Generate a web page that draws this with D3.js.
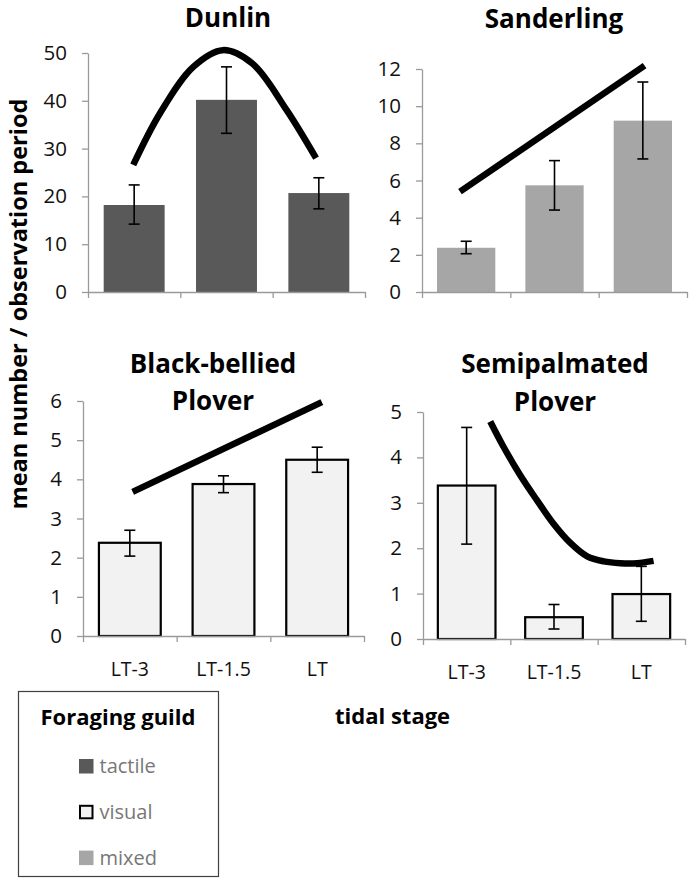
<!DOCTYPE html>
<html><head><meta charset="utf-8">
<script src="https://cdn.jsdelivr.net/npm/d3@7"></script>
<style>
html,body{margin:0;padding:0;background:#fff;}
svg{display:block;font-family:"Open Sans",sans-serif;}
</style></head><body>
<svg id="chart" width="692" height="881"></svg>
<script>
// ---------- data ----------
const categories = ["LT-3", "LT-1.5", "LT"];
const speciesNames = ["Dunlin", "Sanderling", "Black-bellied Plover", "Semipalmated Plover"];
const speciesGuild = ["tactile", "mixed", "visual", "visual"];
const guildNames = ["tactile", "visual", "mixed"];

const dunlinMean = [18.2, 40.2, 20.7];
const dunlinLow  = [14.2, 33.2, 17.4];
const dunlinHigh = [22.4, 47.1, 23.9];

const sanderlingMean = [2.38, 5.74, 9.22];
const sanderlingLow  = [2.06, 4.41, 7.16];
const sanderlingHigh = [2.73, 7.07, 11.3];

const bbploverMean = [2.38, 3.88, 4.50];
const bbploverLow  = [2.04, 3.66, 4.18];
const bbploverHigh = [2.70, 4.09, 4.82];

const spploverMean = [3.38, 0.48, 0.99];
const spploverLow  = [2.09, 0.22, 0.39];
const spploverHigh = [4.66, 0.76, 1.60];

const yMaxValues = [50, 12, 6, 5];
const yTickSteps = [10, 2, 1, 1];

// trend curves (x in category-index units, 0 = LT-3 centre)
const dunlinTrendX = [-0.01, 0.28, 0.64, 0.96, 1.28, 1.65, 1.97];
const dunlinTrendY = [26.6, 37.4, 47.1, 50.6, 47.8, 38.1, 28.0];
const sanderlingTrendX = [-0.07, 2.02];
const sanderlingTrendY = [5.40, 12.18];
const bbploverTrendX = [0.03, 2.05];
const bbploverTrendY = [3.68, 5.97];
const spploverTrendX = [0.27, 0.42, 0.61, 0.80, 0.99, 1.19, 1.38, 1.57, 1.76, 1.95, 2.14];
const spploverTrendY = [4.79, 4.24, 3.62, 3.07, 2.55, 2.11, 1.82, 1.71, 1.67, 1.67, 1.72];

const axisTitleY = "mean number / observation period";
const axisTitleX = "tidal stage";
const legendTitle = "Foraging guild";

// ---------- styles / layout ----------
const guildFill = {tactile: "#595959", mixed: "#a6a6a6", visual: "#f2f2f2"};
const guildStroke = {tactile: "none", mixed: "none", visual: "#000"};
const axisColor = "#9a9a9a";

const panels = [
  {mean: dunlinMean, low: dunlinLow, high: dunlinHigh, tx: dunlinTrendX, ty: dunlinTrendY,
   x0: 88, x1: 365, yTop: 53, yBot: 292, titleLines: ["Dunlin"], titleX: 228, titleY: [27], labels: false, curve: d3.curveCatmullRom},
  {mean: sanderlingMean, low: sanderlingLow, high: sanderlingHigh, tx: sanderlingTrendX, ty: sanderlingTrendY,
   x0: 422, x1: 687, yTop: 69, yBot: 292, titleLines: ["Sanderling"], titleX: 554, titleY: [28], labels: false, curve: d3.curveLinear},
  {mean: bbploverMean, low: bbploverLow, high: bbploverHigh, tx: bbploverTrendX, ty: bbploverTrendY,
   x0: 83, x1: 364, yTop: 401, yBot: 636, titleLines: ["Black-bellied", "Plover"], titleX: 213, titleY: [373, 410], labels: true, curve: d3.curveLinear},
  {mean: spploverMean, low: spploverLow, high: spploverHigh, tx: spploverTrendX, ty: spploverTrendY,
   x0: 423, x1: 685, yTop: 412, yBot: 639, titleLines: ["Semipalmated", "Plover"], titleX: 555, titleY: [373, 411], labels: true, curve: d3.curveCatmullRom}
];

const svg = d3.select("#chart");

panels.forEach((p, i) => {
  const g = svg.append("g");
  const guild = speciesGuild[i];
  const x = d3.scaleBand().domain(categories).range([p.x0, p.x1]).paddingInner(0.34).paddingOuter(0.17);
  const y = d3.scaleLinear().domain([0, yMaxValues[i]]).range([p.yBot, p.yTop]);
  const xc = d3.scaleLinear().domain([0, categories.length - 1])
    .range([x(categories[0]) + x.bandwidth() / 2, x(categories[categories.length - 1]) + x.bandwidth() / 2]);
  const xb = d3.scaleLinear().domain([0, categories.length]).range([p.x0, p.x1]);

  // bars
  const rows = categories.map((c, k) => ({c, m: p.mean[k], lo: p.low[k], hi: p.high[k]}));
  g.selectAll("rect.bar").data(rows).join("rect").attr("class", "bar")
    .attr("x", d => x(d.c)).attr("width", x.bandwidth())
    .attr("y", d => y(d.m)).attr("height", d => y(0) - y(d.m))
    .attr("fill", guildFill[guild])
    .attr("stroke", guildStroke[guild]).attr("stroke-width", 2.2);

  // y axis
  const ya = d3.axisLeft(y).tickValues(d3.range(0, yMaxValues[i] + 1e-9, yTickSteps[i]))
    .tickFormat(d3.format("d"))
    .tickSizeInner(6).tickSizeOuter(0).tickPadding(15);
  const yg = g.append("g").attr("transform", `translate(${p.x0},0)`).call(ya);
  yg.select(".domain").attr("stroke", axisColor).attr("stroke-width", 1.3);
  yg.selectAll(".tick line").attr("stroke", axisColor).attr("stroke-width", 1.3);
  yg.selectAll(".tick text").attr("font-size", 20.5).attr("fill", "#111").attr("font-family", "Open Sans");

  // x axis
  const xa = d3.axisBottom(xb).tickValues(d3.range(0, categories.length + 1)).tickFormat("")
    .tickSizeInner(6).tickSizeOuter(0);
  const xg = g.append("g").attr("transform", `translate(0,${p.yBot})`).call(xa);
  xg.select(".domain").attr("stroke", axisColor).attr("stroke-width", 1.3);
  xg.selectAll(".tick line").attr("stroke", axisColor).attr("stroke-width", 1.3);

  if (p.labels) {
    g.selectAll("text.xl").data(categories).join("text").attr("class", "xl")
      .attr("x", d => x(d) + x.bandwidth() / 2).attr("y", p.yBot + 40)
      .attr("text-anchor", "middle").attr("font-size", 19.5).attr("fill", "#111").text(d => d);
  }

  // error bars
  const eb = g.selectAll("g.err").data(rows).join("g").attr("class", "err");
  const cx = d => x(d.c) + x.bandwidth() / 2;
  eb.append("line").attr("x1", cx).attr("x2", cx).attr("y1", d => y(d.lo)).attr("y2", d => y(d.hi))
    .attr("stroke", "#000").attr("stroke-width", 1.6);
  eb.append("line").attr("x1", d => cx(d) - 5.5).attr("x2", d => cx(d) + 5.5).attr("y1", d => y(d.hi)).attr("y2", d => y(d.hi))
    .attr("stroke", "#000").attr("stroke-width", 1.6);
  eb.append("line").attr("x1", d => cx(d) - 5.5).attr("x2", d => cx(d) + 5.5).attr("y1", d => y(d.lo)).attr("y2", d => y(d.lo))
    .attr("stroke", "#000").attr("stroke-width", 1.6);

  // trend line
  const pts = p.tx.map((v, k) => [v, p.ty[k]]);
  g.append("path").datum(pts)
    .attr("d", d3.line().x(d => xc(d[0])).y(d => y(d[1])).curve(p.curve))
    .attr("fill", "none").attr("stroke", "#000").attr("stroke-width", 6.5);

  // title
  p.titleLines.forEach((ln, k) => {
    g.append("text").attr("x", p.titleX).attr("y", p.titleY[k]).attr("text-anchor", "middle")
      .attr("font-size", 26).attr("font-weight", "bold").attr("fill", "#000").text(ln);
  });
});

// y axis title
svg.append("text").attr("transform", "translate(27,304) rotate(-90)")
  .attr("text-anchor", "middle").attr("font-size", 23.5).attr("font-weight", "bold").attr("fill", "#000")
  .text(axisTitleY);

// x axis title
svg.append("text").attr("x", 335).attr("y", 724).attr("font-size", 22).attr("font-weight", "bold").attr("fill", "#000")
  .text(axisTitleX);

// legend
const lg = svg.append("g");
lg.append("rect").attr("x", 18.5).attr("y", 691.5).attr("width", 200).attr("height", 185)
  .attr("fill", "#fff").attr("stroke", "#404040").attr("stroke-width", 1.2);
lg.append("text").attr("x", 118).attr("y", 725).attr("text-anchor", "middle")
  .attr("font-size", 22).attr("font-weight", "bold").attr("fill", "#000").text(legendTitle);
const item = lg.selectAll("g.item").data(guildNames).join("g").attr("class", "item")
  .attr("transform", (d, k) => `translate(79,${759 + k * 45.8})`);
item.append("rect").attr("x", d => guildStroke[d] === "none" ? 0 : 1).attr("y", d => guildStroke[d] === "none" ? 0 : 1)
  .attr("width", d => guildStroke[d] === "none" ? 14.5 : 12.5).attr("height", d => guildStroke[d] === "none" ? 14.5 : 12.5)
  .attr("fill", d => guildFill[d]).attr("stroke", d => guildStroke[d]).attr("stroke-width", 2);
item.append("text").attr("x", 20.5).attr("y", 14).attr("font-size", 20).attr("fill", "#777").text(d => d);
</script>
</body></html>
